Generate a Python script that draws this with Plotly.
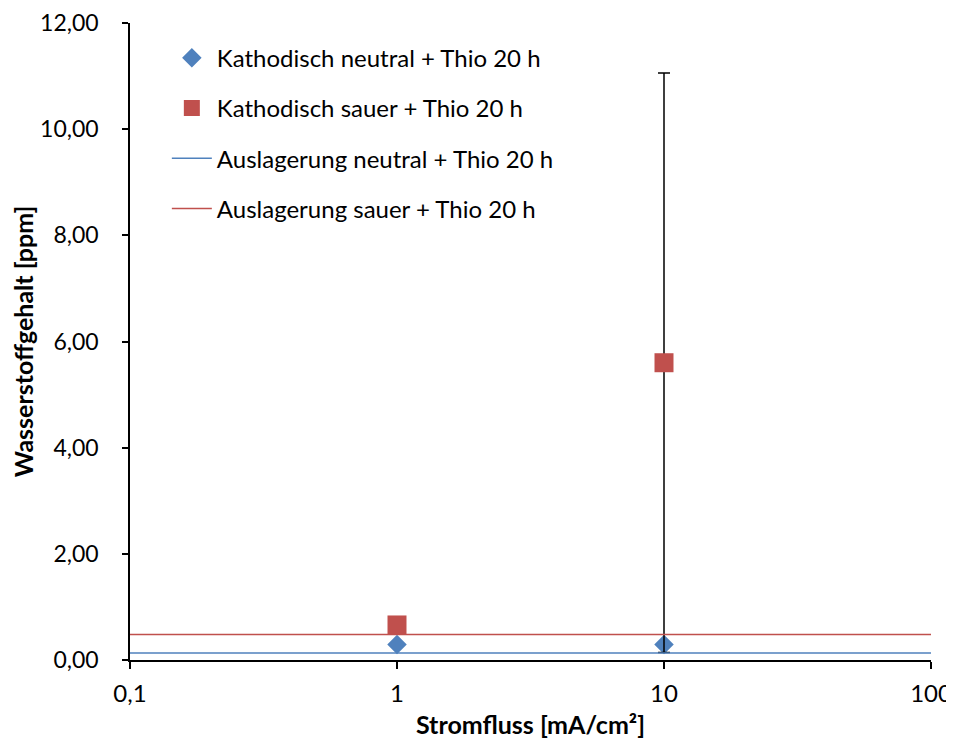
import plotly.graph_objects as go

# Stromfluss [mA/cm2]
strom = [1, 10]
neutral_h = [0.29, 0.29]
sauer_h = [0.66, 5.60]
sauer_err = [0.0, 5.46]

# Auslagerung (no current) -> horizontal reference lines
line_x = [0.1, 100]
ausl_neutral = [0.13, 0.13]
ausl_sauer = [0.48, 0.48]

x_ticks = [0.1, 1, 10, 100]
x_ticktext = ['0,1', '1', '10', '100']

blue = '#4F81BD'
red = '#C0504D'
font = 'Lato, Open Sans, sans-serif'

fig = go.Figure()

fig.add_trace(go.Scatter(
    x=strom, y=neutral_h, mode='markers', name='Kathodisch neutral + Thio 20 h',
    marker=dict(symbol='diamond', size=15, color=blue), legendgroup='a'))

fig.add_trace(go.Scatter(
    x=strom, y=sauer_h, mode='markers', name='Kathodisch sauer + Thio 20 h',
    marker=dict(symbol='square', size=19, color=red), legendgroup='b',
    error_y=dict(type='data', array=sauer_err, visible=True,
                 color='black', thickness=1.5, width=6)))

fig.add_trace(go.Scatter(
    x=line_x, y=ausl_neutral, mode='lines', name='Auslagerung neutral + Thio 20 h',
    line=dict(color=blue, width=1.5), legendgroup='c'))

fig.add_trace(go.Scatter(
    x=line_x, y=ausl_sauer, mode='lines', name='Auslagerung sauer + Thio 20 h',
    line=dict(color=red, width=1.5), legendgroup='d'))

# the page body shifts the figure by 8px; margins are set for that
fig.update_layout(
    width=954, height=742,
    margin=dict(l=122, r=31, t=15, b=90),
    plot_bgcolor='white', paper_bgcolor='white',
    separators=',.',
    font=dict(family=font, size=24, color='black'),
    showlegend=True,
    legend=dict(x=0.046, y=0.98, xanchor='left', yanchor='top',
                bgcolor='rgba(0,0,0,0)', font=dict(size=24),
                itemwidth=40, tracegroupgap=16),
)

fig.update_xaxes(
    type='log', range=[-1, 2], automargin=False,
    tickvals=x_ticks, ticktext=x_ticktext,
    showline=True, linecolor='black', linewidth=1.5,
    ticks='outside', ticklen=7, tickcolor='black', tickwidth=1.5,
    ticklabelstandoff=4, ticklabeloverflow='allow',
    showgrid=False, zeroline=False,
    title=dict(text='<b>Stromfluss [mA/cm²]</b>', font=dict(size=25), standoff=11),
)

fig.update_yaxes(
    range=[0, 12], dtick=2, tickformat='.2f', automargin=False,
    tickfont=dict(size=23),
    showline=True, linecolor='black', linewidth=1.5,
    ticks='outside', ticklen=6, tickcolor='black', tickwidth=1.5,
    ticklabelstandoff=19, ticklabeloverflow='allow',
    showgrid=False, zeroline=False,
    title=dict(text='<b>Wasserstoffgehalt [ppm]</b>', font=dict(size=25), standoff=10),
)

fig.write_html('out.html')
